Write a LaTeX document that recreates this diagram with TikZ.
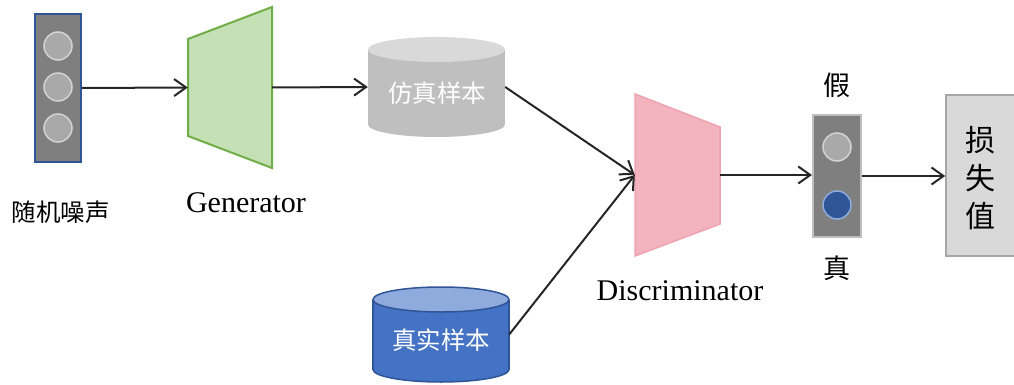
\documentclass[tikz,border=0pt]{standalone}
\usepackage{fontspec}
\setmainfont{Liberation Serif}
\newfontfamily\cjk{Noto Sans CJK SC}
\usetikzlibrary{arrows.meta,calc}

\definecolor{boxgray}{HTML}{7F7F7F}
\definecolor{noiseblue}{HTML}{2F5597}
\definecolor{dotfill}{HTML}{A9A9A9}
\definecolor{dotedge}{HTML}{D3D3D3}
\definecolor{genfill}{HTML}{C5E0B4}
\definecolor{genedge}{HTML}{70AD47}
\definecolor{fakebody}{HTML}{BFBFBF}
\definecolor{faketop}{HTML}{D9D9D9}
\definecolor{realbody}{HTML}{4472C4}
\definecolor{realtop}{HTML}{8FAADC}
\definecolor{realedge}{HTML}{2F5597}
\definecolor{discfill}{HTML}{F4B4BF}
\definecolor{discedge}{HTML}{EFA3B0}
\definecolor{lossfill}{HTML}{D9D9D9}
\definecolor{lossedge}{HTML}{A6A6A6}
\definecolor{linkcol}{HTML}{262626}

\tikzset{
  panel/.style={rectangle, inner sep=0pt},
  dot/.style={circle, inner sep=0pt, minimum size=28pt, fill=dotfill, draw=dotedge, line width=1.5pt},
  link/.style={draw=linkcol, line width=2pt, -{Straight Barb[length=12pt,width=17pt,line width=2pt]}},
  cntext/.style={font=\cjk\fontsize{24.5}{28}\selectfont, inner sep=0pt},
  entext/.style={font=\fontsize{30}{33}\selectfont, inner sep=0pt},
}

\begin{document}
\begin{tikzpicture}[x=1pt,y=-1pt]
\clip (0,0) rectangle (1014,385);
\useasboundingbox (0,0) rectangle (1014,385);

% noise vector
\node[panel, fill=boxgray, draw=noiseblue, line width=2pt, minimum width=46pt, minimum height=148pt] (noise) at (58,88) {};
\node[dot] (n1) at (58,46) {};
\node[dot] (n2) at (58,87) {};
\node[dot] (n3) at (58,128) {};
\node[cntext] (noiselbl) at (61,212) {随机噪声};

% generator
\node[panel, minimum width=84pt, minimum height=161pt] (gen) at (230,87.5) {};
\draw[fill=genfill, draw=genedge, line width=2pt] (188,39) -- (272,7) -- (272,168) -- (188,136) -- cycle;
\node[entext] (genlbl) at (246,203) {Generator};

% generated samples (cylinder)
\node[panel, minimum width=137pt, minimum height=100pt] (fake) at (436.5,87) {};
\fill[fakebody] (436.5,124.5) ellipse[x radius=68.5, y radius=12.5];
\fill[fakebody] (368,49.5) rectangle (505,124.5);
\fill[faketop] (436.5,49.5) ellipse[x radius=68.5, y radius=12.5];
\node[cntext, text=white] (fakelbl) at (437,93) {仿真样本};

% real samples (cylinder)
\node[panel, minimum width=136pt, minimum height=95pt] (real) at (441,334.5) {};
\draw[fill=realbody, draw=realedge, line width=1.5pt] (441,369.5) ellipse[x radius=68, y radius=12.5];
\fill[realbody] (373,299.5) rectangle (509,369.5);
\draw[realedge, line width=1.5pt] (373,299.5) -- (373,369.5) (509,299.5) -- (509,369.5);
\draw[fill=realtop, draw=realedge, line width=1.5pt] (441,299.5) ellipse[x radius=68, y radius=12.5];
\node[cntext, text=white] (reallbl) at (441,340) {真实样本};

% discriminator
\node[panel, minimum width=85pt, minimum height=162pt] (disc) at (677.5,175) {};
\draw[fill=discfill, draw=discedge, line width=1.5pt] (635,94) -- (720,127) -- (720,224) -- (635,256) -- cycle;
\node[entext] (disclbl) at (680,291) {Discriminator};

% output: fake / real
\node[panel, fill=boxgray, draw=fakebody, line width=2pt, minimum width=48pt, minimum height=122pt] (out) at (837,176) {};
\node[dot] (o1) at (837,147) {};
\node[dot, fill=noiseblue, draw=realtop] (o2) at (837,205) {};
\node[cntext, font=\cjk\fontsize{27}{30}\selectfont] (fakeword) at (837,85) {假};
\node[cntext, font=\cjk\fontsize{27}{30}\selectfont] (realword) at (837,268) {真};

% loss
\node[panel, fill=lossfill, draw=lossedge, line width=1.5pt, minimum width=74pt, minimum height=161pt] (loss) at (983,175.5) {};
\node[cntext, font=\cjk\fontsize{30}{38}\selectfont, align=center] (losslbl) at (980,178) {损\\失\\值};

% connectors
\draw[link] (noise.east) -- (gen.west);
\draw[link] (gen.east) -- (fake.west);
\draw[link] (fake.east) -- (disc.west);
\draw[link] (real.east) -- (disc.west);
\draw[link] (disc.east) -- (disc.east -| out.west);
\draw[link] (out.east) -- (out.east -| loss.west);
\end{tikzpicture}
\end{document}
